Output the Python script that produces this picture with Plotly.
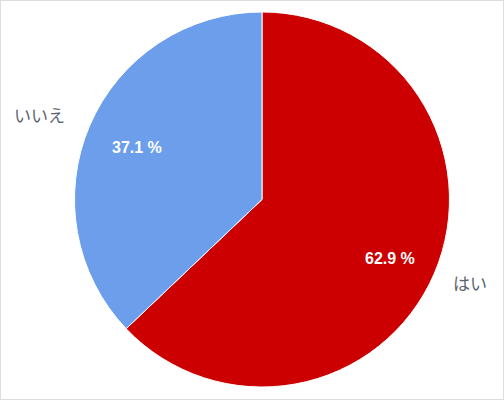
import plotly.graph_objects as go

labels = ["はい", "いいえ"]
values = [62.9, 37.1]
colors = ["#CC0000", "#6D9EEB"]

W, H = 504, 400
cx, cy, R = 262, 199.5, 187.5  # pie centre and radius in pixels

# text positions in pixels (x, y from top)
pct_pos = [(390, 258), (137, 147.5)]
label_pos = [(470, 282), (39, 115)]

fig = go.Figure()

fig.add_trace(
    go.Pie(
        labels=labels,
        values=values,
        sort=False,
        direction="clockwise",
        rotation=0,
        marker=dict(colors=colors, line=dict(color="white", width=1)),
        textinfo="none",
        domain=dict(x=[(cx - R) / W, (cx + R) / W], y=[(H - cy - R) / H, (H - cy + R) / H]),
        showlegend=False,
        hoverinfo="label+percent",
    )
)

for lab, val, (px, py), (lx, ly) in zip(labels, values, pct_pos, label_pos):
    fig.add_annotation(
        x=px / W, y=1 - py / H, xref="paper", yref="paper",
        xanchor="center", yanchor="middle",
        text=f"{val:.1f} %", showarrow=False,
        font=dict(family="Liberation Sans, Arial", size=16, color="white", weight="bold"),
    )
    fig.add_annotation(
        x=lx / W, y=1 - ly / H, xref="paper", yref="paper",
        xanchor="center", yanchor="middle",
        text=lab, showarrow=False,
        font=dict(family="Noto Sans CJK JP", size=17, color="#5A6370"),
    )

# light frame round the picture
fig.add_shape(
    type="rect", xref="paper", yref="paper", x0=0, y0=0, x1=1, y1=1,
    line=dict(color="#DDDDDD", width=2),
)

fig.update_layout(
    width=W,
    height=H,
    margin=dict(l=0, r=0, t=0, b=0),
    paper_bgcolor="white",
    plot_bgcolor="white",
)

fig.write_html(
    "out.html",
    config={"displayModeBar": False},
    post_script="document.body.style.margin='0';",
)
